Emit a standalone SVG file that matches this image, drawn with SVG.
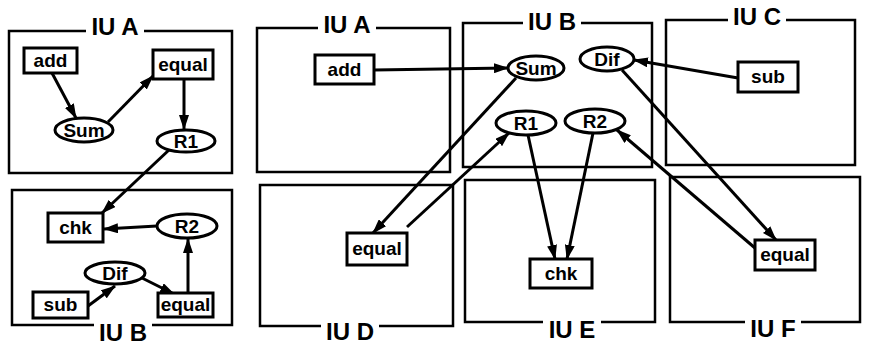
<svg xmlns="http://www.w3.org/2000/svg" width="872" height="347" viewBox="0 0 872 347">
  <style>
    .iu { fill: none; stroke: #000; stroke-width: 2.5; }
    .gap { fill: #fff; stroke: none; }
    .iu-label { font-family: "Liberation Sans", Arial, sans-serif; font-weight: bold; font-size: 24px; text-anchor: middle; fill: #000; }
    .node rect, .node ellipse { fill: #fff; stroke: #000; stroke-width: 3; }
    .node text { font-family: "Liberation Sans", Arial, sans-serif; font-weight: bold; font-size: 19px; text-anchor: middle; fill: #000; }
    .edge { fill: none; stroke: #000; stroke-width: 3; marker-end: url(#head); }
  </style>
  <defs>
    <marker id="head" markerUnits="userSpaceOnUse" viewBox="0 0 15 10" refX="14" refY="5" markerWidth="15" markerHeight="10" orient="auto">
      <path d="M0,0 L15,5 L0,10 Z" fill="#000"/>
    </marker>
  </defs>
  <rect width="872" height="347" fill="#fff"/>

  <!-- interaction units: left pair -->
  <g id="units-left">
    <rect class="iu" x="9" y="31" width="223" height="142"/>
    <rect class="gap" x="86" y="25" width="58" height="12"/>
    <text class="iu-label" x="115" y="35">IU A</text>
    <rect class="iu" x="12" y="190" width="220" height="135"/>
    <rect class="gap" x="94" y="319" width="58" height="12"/>
    <text class="iu-label" x="123" y="341">IU B</text>
  </g>

  <!-- interaction units: right grid -->
  <g id="units-right">
    <rect class="iu" x="257" y="28" width="193" height="144"/>
    <rect class="gap" x="318" y="22" width="58" height="12"/>
    <text class="iu-label" x="347" y="33">IU A</text>
    <rect class="iu" x="463" y="23" width="189" height="144"/>
    <rect class="gap" x="523" y="17" width="58" height="12"/>
    <text class="iu-label" x="552" y="30">IU B</text>
    <rect class="iu" x="666" y="20" width="189" height="145"/>
    <rect class="gap" x="728" y="14" width="58" height="12"/>
    <text class="iu-label" x="757" y="25">IU C</text>
    <rect class="iu" x="260" y="185" width="193" height="141"/>
    <rect class="gap" x="321" y="320" width="58" height="12"/>
    <text class="iu-label" x="350" y="340">IU D</text>
    <rect class="iu" x="465" y="180" width="190" height="142"/>
    <rect class="gap" x="543" y="316" width="58" height="12"/>
    <text class="iu-label" x="572" y="338">IU E</text>
    <rect class="iu" x="670" y="177" width="190" height="145"/>
    <rect class="gap" x="745" y="316" width="56" height="12"/>
    <text class="iu-label" x="773" y="337">IU F</text>
  </g>

  <!-- data-flow connectors -->
  <g id="connectors">
    <line class="edge" x1="52" y1="73" x2="76" y2="118"/>
    <line class="edge" x1="108" y1="122" x2="153" y2="76"/>
    <line class="edge" x1="184" y1="79" x2="184" y2="129"/>
    <line class="edge" x1="169" y1="150" x2="102" y2="213"/>
    <line class="edge" x1="157" y1="226" x2="104" y2="229"/>
    <line class="edge" x1="88" y1="306" x2="115" y2="286"/>
    <line class="edge" x1="142" y1="278" x2="174" y2="294"/>
    <line class="edge" x1="188" y1="293" x2="188" y2="239"/>

    <line class="edge" x1="374" y1="70" x2="508" y2="68"/>
    <line class="edge" x1="516" y1="78" x2="373" y2="233"/>
    <line class="edge" x1="407" y1="227" x2="509" y2="133"/>
    <line class="edge" x1="528" y1="135" x2="555" y2="259"/>
    <line class="edge" x1="593" y1="133" x2="567" y2="259"/>
    <line class="edge" x1="738" y1="78" x2="634" y2="60"/>
    <line class="edge" x1="622" y1="70" x2="776" y2="240"/>
    <line class="edge" x1="755" y1="248" x2="617" y2="130"/>
  </g>

  <!-- left IU A nodes -->
  <g id="l-add" class="node"><rect x="24" y="48" width="53" height="25"/><text x="50.5" y="67">add</text></g>
  <g id="l-equal-a" class="node"><rect x="153" y="50" width="60" height="29"/><text x="183" y="71">equal</text></g>
  <g id="l-sum" class="node"><ellipse cx="84" cy="130" rx="29" ry="12"/><text x="84" y="137">Sum</text></g>
  <g id="l-r1" class="node"><ellipse cx="186" cy="141" rx="29" ry="11"/><text x="186" y="148">R1</text></g>

  <!-- left IU B nodes -->
  <g id="l-chk" class="node"><rect x="48" y="213" width="55" height="29"/><text x="75.5" y="234">chk</text></g>
  <g id="l-r2" class="node"><ellipse cx="187" cy="226" rx="30" ry="12"/><text x="187" y="233">R2</text></g>
  <g id="l-dif" class="node"><ellipse cx="115" cy="273" rx="30" ry="11"/><text x="115" y="280">Dif</text></g>
  <g id="l-sub" class="node"><rect x="33" y="292" width="55" height="26"/><text x="60.5" y="311">sub</text></g>
  <g id="l-equal-b" class="node"><rect x="158" y="293" width="55" height="24"/><text x="185.5" y="311">equal</text></g>

  <!-- right grid nodes -->
  <g id="r-add" class="node"><rect x="315" y="55" width="59" height="29"/><text x="344.5" y="76">add</text></g>
  <g id="r-sum" class="node"><ellipse cx="536" cy="68" rx="28" ry="12"/><text x="536" y="75">Sum</text></g>
  <g id="r-dif" class="node"><ellipse cx="607" cy="59" rx="27" ry="12"/><text x="607" y="66">Dif</text></g>
  <g id="r-r1" class="node"><ellipse cx="526" cy="123" rx="30" ry="12"/><text x="526" y="130">R1</text></g>
  <g id="r-r2" class="node"><ellipse cx="595" cy="121" rx="30" ry="12"/><text x="595" y="128">R2</text></g>
  <g id="r-sub" class="node"><rect x="738" y="62" width="60" height="30"/><text x="768" y="83">sub</text></g>
  <g id="r-equal-d" class="node"><rect x="347" y="233" width="60" height="32"/><text x="377" y="255">equal</text></g>
  <g id="r-chk" class="node"><rect x="530" y="259" width="62" height="29"/><text x="561" y="280">chk</text></g>
  <g id="r-equal-f" class="node"><rect x="755" y="240" width="60" height="30"/><text x="785" y="261">equal</text></g>
</svg>
